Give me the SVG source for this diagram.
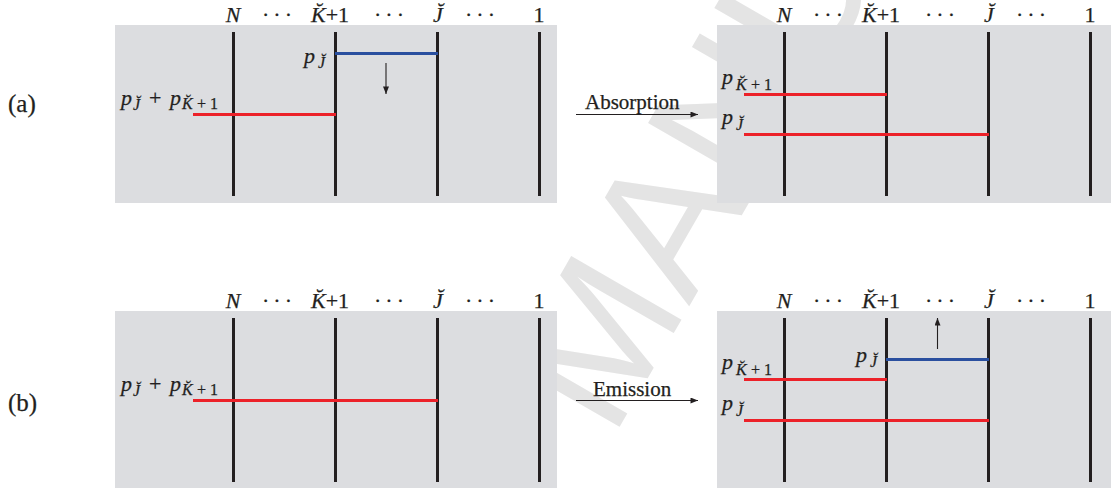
<svg xmlns="http://www.w3.org/2000/svg" width="1111" height="493" viewBox="0 0 1111 493">
<style>
.panel{fill:#dcdde0}
.vl{stroke:#231f20;stroke-width:3}
.red{stroke:#ec2129;stroke-width:3}
.blue{stroke:#2a4f9f;stroke-width:3}
.thin{stroke:#231f20;stroke-width:1.1;fill:none}
text{font-family:"Liberation Serif","Times New Roman",serif;fill:#231f20}
.m,.lab,.cap{stroke:#231f20;stroke-width:0.25}
.m{font-size:22px}
.i{font-style:italic}
.u{font-style:normal}
.s{font-size:16px}
.lab{font-size:21px}
.cap{font-size:25px}
.wm{font-family:"Liberation Sans",Arial,sans-serif;font-size:185px;fill:#e4e4e4}
</style>
<defs>
<marker id="ah" viewBox="0 0 10 8" refX="10" refY="4" markerWidth="9" markerHeight="6" markerUnits="userSpaceOnUse" orient="auto">
<path d="M0,0 L10,4 L0,8 z" fill="#231f20"/>
</marker>
</defs>
<rect width="1111" height="493" fill="#ffffff"/>
<g id="watermark" transform="translate(612,440) rotate(-60)">
<text class="wm" x="0" y="0">MANUSCRIPT</text>
</g>

<g id="label-a"><text class="cap" x="8" y="112">(a)</text></g>
<g id="label-b"><text class="cap" x="8" y="411">(b)</text></g>

<!-- Panel a-left -->
<g id="panel-a-before">
<rect class="panel" x="115" y="25" width="442" height="178"/>
<g class="m" text-anchor="middle">
<text class="i" x="233" y="22">N</text>
<text x="279" y="22" letter-spacing="4">···</text>
<text x="330" y="22"><tspan class="i">K̆</tspan>+1</text>
<text x="391" y="22" letter-spacing="4">···</text>
<text class="i" x="438" y="22">J̆</text>
<text x="482" y="22" letter-spacing="4">···</text>
<text x="539" y="22">1</text>
</g>
<line class="vl" x1="233.5" y1="32" x2="233.5" y2="196"/>
<line class="vl" x1="335.5" y1="32" x2="335.5" y2="196"/>
<line class="vl" x1="437.5" y1="32" x2="437.5" y2="196"/>
<line class="vl" x1="539.5" y1="32" x2="539.5" y2="196"/>
<line class="blue" x1="335" y1="53.5" x2="438" y2="53.5"/>
<line class="red" x1="193" y1="114.5" x2="336" y2="114.5"/>
<text class="m i" x="304" y="63">p<tspan class="s" x="318" y="68">J̆</tspan></text>
<text class="m i" x="121" y="105">p<tspan class="s" x="133" y="110">J̆</tspan><tspan class="u" x="149" y="105">+</tspan><tspan x="170" y="105">p</tspan><tspan class="s" x="182" y="109">K̆</tspan><tspan class="s u" x="197" y="109">+</tspan><tspan class="s u" x="210" y="109">1</tspan></text>
<line class="thin" x1="386" y1="63" x2="386" y2="94" marker-end="url(#ah)"/>
</g>

<!-- Panel a-right -->
<g id="panel-a-after">
<rect class="panel" x="717" y="25" width="394" height="178"/>
<g class="m" text-anchor="middle">
<text class="i" x="784" y="22">N</text>
<text x="830" y="22" letter-spacing="4">···</text>
<text x="881" y="22"><tspan class="i">K̆</tspan>+1</text>
<text x="942" y="22" letter-spacing="4">···</text>
<text class="i" x="989" y="22">J̆</text>
<text x="1033" y="22" letter-spacing="4">···</text>
<text x="1090" y="22">1</text>
</g>
<line class="vl" x1="784.5" y1="32" x2="784.5" y2="196"/>
<line class="vl" x1="886.5" y1="32" x2="886.5" y2="196"/>
<line class="vl" x1="988.5" y1="32" x2="988.5" y2="196"/>
<line class="vl" x1="1090.5" y1="32" x2="1090.5" y2="196"/>
<line class="red" x1="744" y1="94.5" x2="887" y2="94.5"/>
<line class="red" x1="744" y1="134.5" x2="989" y2="134.5"/>
<text class="m i" x="722" y="84">p<tspan class="s" x="736" y="90">K̆</tspan><tspan class="s u" x="751" y="90">+</tspan><tspan class="s u" x="764" y="90">1</tspan></text>
<text class="m i" x="722" y="124">p<tspan class="s" x="736" y="130">J̆</tspan></text>
</g>

<!-- Panel b-left -->
<g id="panel-b-before">
<rect class="panel" x="115" y="311" width="442" height="177"/>
<g class="m" text-anchor="middle">
<text class="i" x="233" y="308">N</text>
<text x="279" y="308" letter-spacing="4">···</text>
<text x="330" y="308"><tspan class="i">K̆</tspan>+1</text>
<text x="391" y="308" letter-spacing="4">···</text>
<text class="i" x="438" y="308">J̆</text>
<text x="482" y="308" letter-spacing="4">···</text>
<text x="539" y="308">1</text>
</g>
<line class="vl" x1="233.5" y1="318" x2="233.5" y2="482"/>
<line class="vl" x1="335.5" y1="318" x2="335.5" y2="482"/>
<line class="vl" x1="437.5" y1="318" x2="437.5" y2="482"/>
<line class="vl" x1="539.5" y1="318" x2="539.5" y2="482"/>
<line class="red" x1="193" y1="400.5" x2="438" y2="400.5"/>
<text class="m i" x="121" y="391">p<tspan class="s" x="133" y="396">J̆</tspan><tspan class="u" x="149" y="391">+</tspan><tspan x="170" y="391">p</tspan><tspan class="s" x="182" y="395">K̆</tspan><tspan class="s u" x="197" y="395">+</tspan><tspan class="s u" x="210" y="395">1</tspan></text>
</g>

<!-- Panel b-right -->
<g id="panel-b-after">
<rect class="panel" x="717" y="311" width="394" height="177"/>
<g class="m" text-anchor="middle">
<text class="i" x="784" y="308">N</text>
<text x="830" y="308" letter-spacing="4">···</text>
<text x="881" y="308"><tspan class="i">K̆</tspan>+1</text>
<text x="942" y="308" letter-spacing="4">···</text>
<text class="i" x="989" y="308">J̆</text>
<text x="1033" y="308" letter-spacing="4">···</text>
<text x="1090" y="308">1</text>
</g>
<line class="vl" x1="784.5" y1="318" x2="784.5" y2="482"/>
<line class="vl" x1="886.5" y1="318" x2="886.5" y2="482"/>
<line class="vl" x1="988.5" y1="318" x2="988.5" y2="482"/>
<line class="vl" x1="1090.5" y1="318" x2="1090.5" y2="482"/>
<line class="blue" x1="886" y1="359.5" x2="989" y2="359.5"/>
<line class="red" x1="744" y1="379.5" x2="887" y2="379.5"/>
<line class="red" x1="744" y1="420.5" x2="989" y2="420.5"/>
<text class="m i" x="856" y="362">p<tspan class="s" x="870" y="367">J̆</tspan></text>
<text class="m i" x="722" y="369">p<tspan class="s" x="736" y="375">K̆</tspan><tspan class="s u" x="751" y="375">+</tspan><tspan class="s u" x="764" y="375">1</tspan></text>
<text class="m i" x="722" y="410">p<tspan class="s" x="736" y="416">J̆</tspan></text>
<line class="thin" x1="937.5" y1="349" x2="937.5" y2="318" marker-end="url(#ah)"/>
</g>

<g id="connectors">
<line class="thin" x1="576" y1="114.5" x2="698" y2="114.5" marker-end="url(#ah)"/>
<text class="lab" x="585" y="109">Absorption</text>
<line class="thin" x1="576" y1="400.5" x2="698" y2="400.5" marker-end="url(#ah)"/>
<text class="lab" x="593" y="395.5">Emission</text>
</g>
</svg>
